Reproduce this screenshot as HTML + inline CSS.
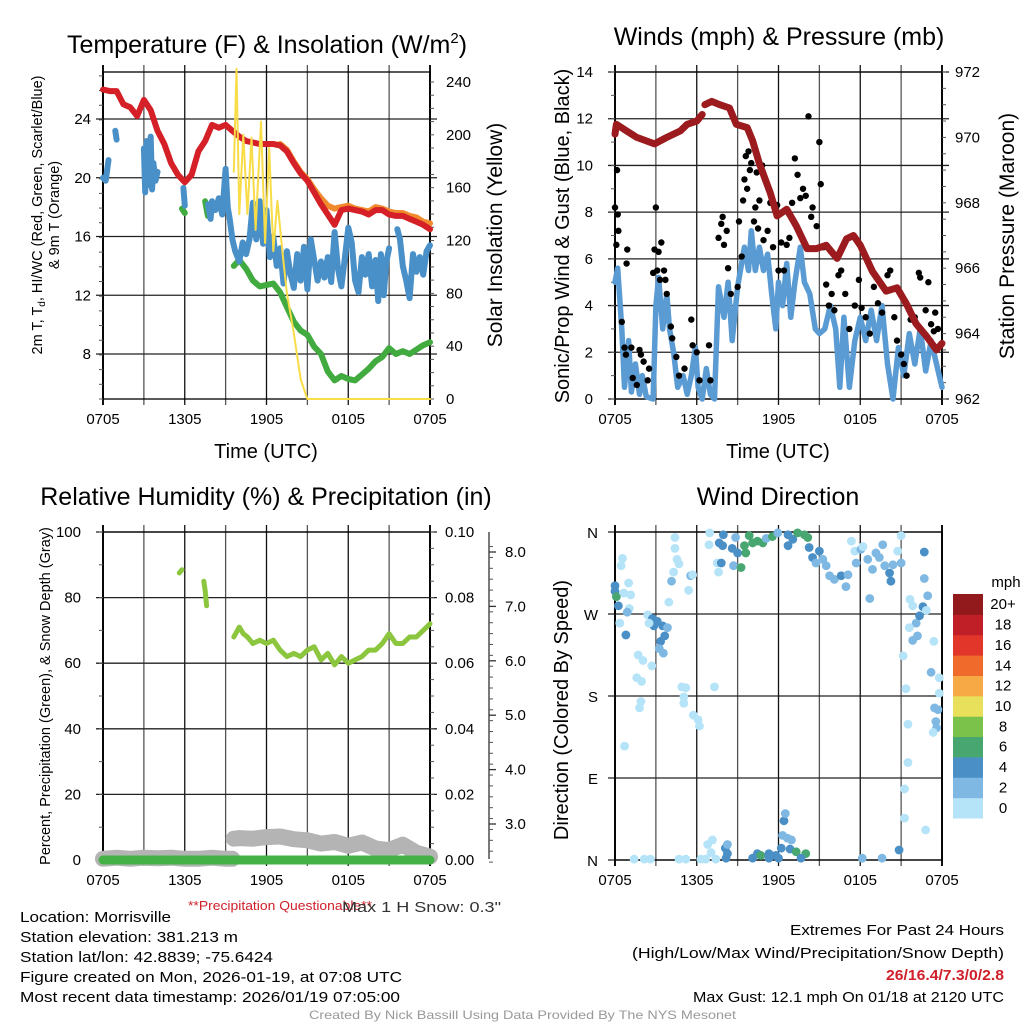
<!DOCTYPE html>
<html><head><meta charset="utf-8"><style>
html,body{margin:0;padding:0;background:#fff;width:1024px;height:1024px;overflow:hidden}
svg{display:block;font-family:"Liberation Sans",Arial,sans-serif}
</style></head><body>
<svg id="fig" width="1024" height="1024" viewBox="0 0 1024 1024" xmlns="http://www.w3.org/2000/svg">
<g id="layer"></g>
<g fill="#000" font-size="15">
<text x="188" y="910" font-size="13" fill="#d0202a" textLength="184" lengthAdjust="spacingAndGlyphs">**Precipitation Questionable**</text>
<text x="342" y="912" fill="#333" textLength="159" lengthAdjust="spacingAndGlyphs">Max 1 H Snow: 0.3"</text>
<text x="20" y="922" textLength="151" lengthAdjust="spacingAndGlyphs">Location: Morrisville</text>
<text x="20" y="942" textLength="218" lengthAdjust="spacingAndGlyphs">Station elevation: 381.213 m</text>
<text x="20" y="962" textLength="253" lengthAdjust="spacingAndGlyphs">Station lat/lon: 42.8839; -75.6424</text>
<text x="20" y="982" textLength="382" lengthAdjust="spacingAndGlyphs">Figure created on Mon, 2026-01-19, at 07:08 UTC</text>
<text x="20" y="1002" textLength="380" lengthAdjust="spacingAndGlyphs">Most recent data timestamp: 2026/01/19 07:05:00</text>
<text x="1004" y="935" text-anchor="end" textLength="214" lengthAdjust="spacingAndGlyphs">Extremes For Past 24 Hours</text>
<text x="1004" y="958" text-anchor="end" textLength="372" lengthAdjust="spacingAndGlyphs">(High/Low/Max Wind/Precipitation/Snow Depth)</text>
<text x="1004" y="980" text-anchor="end" fill="#d0202a" font-weight="bold" textLength="118" lengthAdjust="spacingAndGlyphs">26/16.4/7.3/0/2.8</text>
<text x="1004" y="1002" text-anchor="end" textLength="311" lengthAdjust="spacingAndGlyphs">Max Gust: 12.1 mph On 01/18 at 2120 UTC</text>
<text x="309" y="1019" font-size="12" fill="#999" textLength="427" lengthAdjust="spacingAndGlyphs">Created By Nick Bassill Using Data Provided By The NYS Mesonet</text>
</g>
</svg>
<script>
// ---------- DATA (hours since 0705 UTC) ----------
const timeTicks = ["0705","1305","1905","0105","0705"];
const tempTicks = [8,12,16,20,24];
const solarTicks = [0,40,80,120,160,200,240];
const windTicks = [0,2,4,6,8,10,12,14];
const presTicks = [962,964,966,968,970,972];
const rhTicks = [0,20,40,60,80,100];
const precipTicks = ["0.00","0.02","0.04","0.06","0.08","0.10"];
const snowTicks = [3,4,5,6,7,8];
const dirTicks = ["N","E","S","W","N"];
const speedBins = ["0","2","4","6","8","10","12","14","16","18","20+"];

const tempT = [0,0.5,1,1.5,2,2.5,3,3.5,4,4.5,5,5.5,6,6.5,7,7.5,8,8.5,9,9.5,10,10.5,11,11.5,12,12.5,13,13.5,14,14.5,15,15.5,16,16.5,17,17.5,18,18.5,19,19.5,20,20.5,21,21.5,22,22.5,23,23.5,24];
const tempV = [26,25.9,25.9,25,24.8,24.2,25.3,24.6,23.2,22.3,21,20.2,19.7,20.2,21.8,22.5,23.6,23.4,23.6,23.2,22.8,22.5,22.4,22.3,22.3,22.3,22.2,21.8,21,20.3,19.8,19,18.2,17.5,16.8,17.8,17.9,17.8,17.7,17.5,17.8,17.8,17.5,17.4,17.4,17.2,17,16.8,16.5];
const t9T = [13,13.5,14,14.5,15,15.5,16,16.5,17,17.5,18,18.5,19,19.5,20,20.5,21,21.5,22,22.5,23,23.5,24];
const t9V = [22.3,21.9,21.1,20.4,19.9,19.2,18.6,18.1,17.9,18,18.1,17.9,17.8,17.7,18,17.9,17.7,17.6,17.6,17.4,17.3,17,16.9];
const tdT = [5.8,6.0,null,7.5,7.7,null,9.6,10,10.5,11,11.5,12,12.5,13,13.5,14,14.5,15,15.5,16,16.5,17,17.5,18,18.5,19,19.5,20,20.5,21,21.5,22,22.5,23,23.5,24];
const tdV = [17.9,17.6,null,18.4,17.4,null,14,14.4,13.8,13,12.6,12.7,12.8,12.2,11.2,10.2,9.6,9.3,8.5,8,6.8,6.2,6.5,6.3,6.2,6.6,7,7.5,7.8,8.4,8,8.2,8,8.3,8.6,8.8];
const wcT = [0,0.2,0.4,null,0.9,1.0,null,3,3.1,3.2,3.35,3.5,3.6,3.7,3.85,4,null,5.9,6.0,null,7.7,7.9,8,8.25,8.5,8.75,9,9.15,9.3,9.5,9.7,10,10.25,10.5,10.75,11,11.25,11.5,11.75,12,12.25,12.5,12.75,13,13.25,13.5,13.75,14,14.25,14.5,14.75,15,15.25,15.5,15.75,16,16.25,16.5,16.75,17,17.25,17.5,17.75,18,18.25,18.5,18.75,19,19.25,19.5,19.75,20,20.2,20.4,20.6,20.8,21,null,21.6,21.8,22,22.25,22.5,22.75,23,23.25,23.5,23.75,24];
const wcV = [20,19.8,21.2,null,23.2,22.6,null,22,19,22.5,19.5,22.8,19.2,21,19.8,20.4,null,19.3,18.1,null,18.2,17.2,18.4,17.8,18.6,17.5,20.6,18,17.2,15.8,15,14.3,15.6,14.8,15.8,18.3,15.8,18.4,15.5,17.8,14.6,16,14,15.2,12.8,15,13.5,12.5,14.8,13,15.3,12.4,15.8,14.4,13,14.3,13.2,14.6,12.9,16.3,13.8,12.6,14.5,16.6,15.6,13,12.2,14.6,13.4,14.8,12.6,14.4,11.6,14.8,12,14.3,15.2,null,16.5,15.8,14,13,11.8,14.8,13.6,14.6,13.4,15,15.4];
const solT = [9.6,9.8,10.0,10.3,10.6,10.9,11.2,11.6,11.9,12.2,12.5,12.8,13.2,13.5,14,14.5,15,24];
const solV = [172,250,140,200,140,198,128,210,118,190,112,150,108,80,50,15,0,0];

const windT = [0,0.2,0.5,0.7,1,1.2,1.5,1.8,2,2.3,2.8,3,3.2,3.5,3.8,4,4.3,4.6,5,5.3,5.6,5.9,6.1,6.4,6.7,7,7.3,7.6,8,8.3,8.6,9,9.5,9.8,10,10.3,10.6,10.9,11.2,11.5,11.8,12,12.3,12.6,12.9,13.2,13.6,13.9,14.3,14.7,15,15.4,15.8,16.2,16.5,16.8,17.2,17.6,18,18.4,18.8,19.2,19.6,20,20.4,20.8,21.2,21.6,22,22.4,22.8,23.2,23.6,24];
const windV = [5,5.6,3,0.5,2.5,0.3,1.5,0.2,1,0.1,0,4,5.2,3,4.5,3,2,0.5,1,0.2,1,2.2,0.5,0,1.3,0.2,0,4.8,3.5,5,2.5,4.8,6.5,5.5,7.2,5.5,6.5,5.5,6.2,4.5,3,5,4,5.8,3.5,5,6.5,5,4.5,3,2.8,3,4,3,0.5,3.5,0.5,2.5,3.5,2.5,3.8,2.5,4,1.5,0,2.2,1,2.8,1.5,3,1.2,2.5,1.5,0.5];
const gustT = [0,0.1,0.15,0.2,0.25,0.5,0.7,0.8,0.85,0.9,1.2,1.3,1.6,1.8,1.9,2.1,2.4,2.5,2.8,2.9,3.0,3.1,3.2,3.3,3.4,3.6,3.7,3.8,4.1,4.2,4.5,4.7,5.1,5.6,5.7,6.0,6.2,6.9,7.0,7.6,7.8,7.9,8.0,8.2,8.3,8.5,9.0,9.1,9.3,9.4,9.5,9.6,9.7,9.8,9.9,10.0,10.2,10.3,10.4,10.5,10.6,10.8,10.9,11.2,11.4,11.6,11.9,12.0,12.2,12.4,12.6,12.8,13.0,13.2,13.4,13.6,13.8,14.0,14.2,14.4,14.5,14.8,15.0,15.1,15.3,15.5,15.7,15.9,16.1,16.4,16.6,16.9,17.2,17.6,17.9,18.1,18.4,18.7,19.0,19.3,19.6,20.0,20.2,20.5,20.7,21.0,21.2,21.4,21.7,22.0,22.3,22.4,22.8,23.0,23.2,23.4,23.5,23.7];
const gustV = [8.2,6.6,9.8,7.9,7.2,3.3,2.2,1.9,5.8,6.4,2.2,0.9,0.6,2.1,1.9,1.6,0.8,1.3,5.4,6.4,8.2,5.5,6.3,5.1,6.7,5.5,5.1,4.5,3.1,2.6,1.8,1.0,1.3,3.4,2.3,2.0,0.8,2.3,0.8,6.9,7.5,7.8,6.6,7.2,5.6,4.5,4.8,7.6,6.1,8.5,9.4,10.4,9.0,10.6,9.8,10.1,7.6,8.2,9.7,7.3,8.5,10.0,6.8,7.2,8.4,6.5,8.3,5.5,6.7,5.5,6.6,6.9,8.4,10.3,9.6,8.6,9.0,8.7,12.1,7.8,8.2,7.4,11.0,9.2,6.5,4.9,4.0,4.5,3.8,5.3,5.5,4.5,3.0,4.0,5.1,3.9,3.5,2.8,4.8,4.1,3.7,5.3,5.5,3.5,2.5,1.9,1.5,1.0,3.4,3.5,5.4,5.2,3.8,5.0,3.2,2.9,3.7,3.0];
const presT = [0,0.1,0.85,1.6,2.9,3.8,4.8,5.3,6.0,6.4,null,6.6,7.1,7.7,8.4,8.9,9.7,10.1,10.6,11.4,11.9,12.6,13.3,14.1,14.8,15.5,16.3,17.0,17.5,18.0,18.9,19.9,20.7,21.4,22.1,22.9,23.6,24];
const presV = [970.1,970.4,970.2,970.0,969.8,970.0,970.2,970.4,970.5,970.7,null,971.0,971.1,971.0,970.9,970.4,970.3,969.9,969.2,968.3,967.6,967.8,967.3,966.6,966.6,966.7,966.3,966.9,967.0,966.7,965.9,965.3,965.4,964.9,964.3,963.9,963.5,963.7];

const rhT = [5.6,5.8,null,7.4,7.5,7.6,null,9.6,10,10.3,10.6,11,11.5,12,12.5,13,13.5,14,14.5,15,15.5,16,16.5,17,17.5,18,18.5,19,19.5,20,20.5,21,21.5,22,22.5,23,23.5,24];
const rhV = [87.5,88.5,null,85,82,77.5,null,68,71,69,68,66,67,66,67,64,62,63,62,64,65,61,63,59.5,62,60,61,62,64,64,66,69,66,66,68,68,70,72];
const snowT = [0,1,2,3,4,5,6,7,8,9,9.5,null,9.6,10,11,12,13,14,15,16,17,18,19,20,21,22,23,24];
const snowV = [2.36,2.38,2.36,2.38,2.37,2.38,2.36,2.36,2.38,2.36,2.36,null,2.73,2.74,2.73,2.76,2.77,2.72,2.7,2.64,2.67,2.6,2.66,2.55,2.52,2.62,2.47,2.4];
const precipT = [0,24];
const precipV = [0,0];

const dirT = [0,0,0.1,0.25,0.55,0.45,1.0,0.65,1.15,1.05,0.9,0.35,0.8,1.7,2.05,2.7,1.6,1.95,1.9,1.8,0.7,2.4,2.75,3.1,2.85,3.5,3.85,3.65,3.35,3.25,3.55,2.5,4.4,4.4,4.55,4.7,4.3,4.15,3.95,5.4,5.55,5.7,4.9,5.2,5.05,5.05,5.75,6.1,6.2,6.95,6.9,7.3,7.5,7.6,7.8,7.65,7.9,7.95,8.6,8.7,8.85,9.0,9.25,9.5,9.6,9.85,10.1,10.45,10.85,11.1,11.55,11.95,12.7,12.7,13.05,13.4,13.9,14.15,14.25,14.5,15.0,14.75,15.25,15.5,15.75,16.1,16.6,16.95,17.1,17.35,17.6,17.7,18.05,18.2,18.55,18.7,18.9,19.15,19.4,19.65,19.8,20.15,20.25,20.4,20.75,21.0,21.0,21.65,21.85,22.1,22.35,22.6,22.7,22.7,22.85,22.95,21.6,21.85,22.2,21.15,21.35,23.2,23.4,23.8,23.8,23.45,23.7,23.55,23.6,23.35,21.5,21.5,21.25,21.25,22.8,20.85,18.15,19.6,1.4,2.15,2.6,4.7,5.2,6.3,6.65,7.4,6.8,7.15,7.05,8.1,8.25,8.25,8.15,10.1,10.45,10.7,11.3,11.3,11.8,12.2,12.0,12.4,12.5,12.3,12.65,12.95,12.85,13.3,14.0,13.65];
const dirV = [301,295,289,279,331,323,304,293,291,276,272,260,247,225,219,213,200,196,174,167,125,269,265,262,257,257,255,246,240,232,227,260,354,342,330,325,316,306,283,296,312,313,190,189,179,172,159,154,147,359,346,190,326,316,326,348,345,357,342,323,354,337,321,345,337,356,348,350,348,353,355,359,357,345,352,359,357,354,343,332,339,326,330,323,312,308,312,300,313,350,339,326,341,344,330,287,319,337,332,346,323,315,306,324,339,326,356,286,279,260,268,278,309,338,274,290,255,241,246,224,188,206,240,200,183,167,165,152,145,140,149,107,78,46,33,11,2,2,1,1,1,1,1,1,1,1,17,22,8,13,17,7,2,2,7,5,7,2,5,13,2,43,51,27,24,22,12,9,7,2];
const dirSpd = [5,5,7,5,1,1,1,1,1,1,3,1,5,1,1,1,1,1,1,1,1,1,5,5,5,5,3,5,5,3,3,1,1,1,1,1,1,3,1,1,3,1,1,1,1,1,1,1,1,1,1,1,1,1,5,5,5,5,5,3,3,5,7,7,7,7,7,7,7,3,7,3,5,5,5,7,7,7,5,5,5,3,3,3,3,3,5,3,3,1,1,3,3,1,3,3,3,3,3,3,3,5,5,3,1,3,1,1,1,3,5,5,3,5,1,3,1,3,3,1,1,3,1,1,1,3,3,3,3,1,1,1,1,1,1,5,3,3,1,1,1,1,1,1,1,1,1,1,1,5,3,5,5,5,5,7,5,5,5,5,5,5,3,3,3,3,5,7,7,5];
const binColors = ["#b5e3f8","#7fb9e3","#4a90c6","#48a671","#7bc24b","#e8e05a","#f6a945","#f06a2b","#e2362b","#c11f27","#921a1d"];

// ---------- helpers ----------
const NS="http://www.w3.org/2000/svg";
const layer=document.getElementById('layer');
function el(tag,attrs,parent,txt){const e=document.createElementNS(NS,tag);for(const k in attrs)e.setAttribute(k,attrs[k]);if(txt!==undefined)e.textContent=txt;(parent||layer).appendChild(e);return e;}
function lin(d0,d1,r0,r1){return v=>r0+(v-d0)*(r1-r0)/(d1-d0);}
function pathFrom(ts,vs,fx,fy){let d="",pen=false;for(let i=0;i<ts.length;i++){if(ts[i]===null||vs[i]===null){pen=false;continue;}d+=(pen?"L":"M")+fx(ts[i]).toFixed(1)+","+fy(vs[i]).toFixed(1);pen=true;}return d;}

function frame(g,L,R,T,B,xs,hy,opts){
  for(let h=0;h<=24;h+=3){const x=xs(h);
    const ln=el('line',{x1:x,x2:x,y1:T-7,y2:B+6,stroke:(h%6===0?'#111':'#555'),'stroke-width':(h===0||h===24)?2:1.3},g);
    }
  hy.forEach(y=>{const ln=el('line',{x1:L-7,x2:R+(opts.rightTick?7:0),y1:y,y2:y,stroke:'#222','stroke-width':1.3},g);
    });
  el('rect',{x:L,y:T,width:R-L,height:B-T,fill:'none',stroke:'#000','stroke-width':1.3},g);
  for(let i=0;i<timeTicks.length;i++){const t=el('text',{x:xs(i*6),y:B+25,'text-anchor':'middle','font-size':15},g,timeTicks[i]);
    }
}
function minorTicks(g,x,T,B,step,dir){for(let y=B;y>=T-0.5;y-=step){el('line',{x1:x,x2:x+dir*4,y1:y,y2:y,stroke:'#555','stroke-width':1},g);}}

// ---------- Panel 1: Temperature ----------
(function(){
const g=el('g',{});
const L=103,R=430,T=72,B=399;
const xs=lin(0,24,L,R), yT=lin(8,24,354,119), yS=lin(0,240,399,82);
frame(g,L,R,T,B,xs,tempTicks.map(yT),{rightTick:true});
minorTicks(g,L,T,B,(yT(8)-yT(9)),-1);minorTicks(g,R,T,B,(yS(0)-yS(10)),1);
tempTicks.forEach(v=>{const t=el('text',{x:L-12,y:yT(v)+5,'text-anchor':'end','font-size':15},g,v);});
solarTicks.forEach(v=>{const t=el('text',{x:R+16,y:yS(v)+5,'font-size':15},g,v);});
const cap={fill:'none','stroke-linejoin':'round','stroke-linecap':'round'};
let p=el('path',Object.assign({d:pathFrom(t9T,t9V,xs,yT),stroke:'#f08a2c','stroke-width':6},cap),g);
p=el('path',Object.assign({d:pathFrom(tempT,tempV,xs,yT),stroke:'#d42026','stroke-width':6},cap),g);
p=el('path',Object.assign({d:pathFrom(tdT,tdV,xs,yT),stroke:'#41ab3f','stroke-width':6},cap),g);
p=el('path',Object.assign({d:pathFrom(wcT,wcV,xs,yT),stroke:'#4a90c8','stroke-width':6},cap),g);
p=el('path',Object.assign({d:pathFrom(solT,solV,xs,yS),stroke:'#f8dc48','stroke-width':2},cap),g);
let t=el('text',{x:267,y:53,'text-anchor':'middle','font-size':25},g);
t.innerHTML='Temperature (F) &amp; Insolation (W/m<tspan dy="-10" font-size="15">2</tspan><tspan dy="10">)</tspan>';
t=el('text',{x:266,y:458,'text-anchor':'middle','font-size':20},g,'Time (UTC)');
t=el('text',{transform:'translate(42,215) rotate(-90)','text-anchor':'middle','font-size':14.5},g);
t.innerHTML='2m T, T<tspan dy="3" font-size="10">d</tspan><tspan dy="-3">, HI/WC (Red, Green, Scarlet/Blue)</tspan>';
t=el('text',{transform:'translate(59,215) rotate(-90)','text-anchor':'middle','font-size':14.5},g,'& 9m T (Orange)');
t=el('text',{transform:'translate(502,235) rotate(-90)','text-anchor':'middle','font-size':21},g,'Solar Insolation (Yellow)');
})();

// ---------- Panel 2: Winds ----------
(function(){
const g=el('g',{});
const L=615,R=942,T=72,B=399;
const xs=lin(0,24,L,R), yW=lin(0,14,399,72), yP=lin(962,972,399,72);
frame(g,L,R,T,B,xs,windTicks.map(yW),{rightTick:true});
minorTicks(g,L,T,B,(yW(0)-yW(1)),-1);minorTicks(g,R,T,B,(yP(962)-yP(962.5)),1);
windTicks.forEach(v=>{const t=el('text',{x:L-22,y:yW(v)+5,'text-anchor':'end','font-size':15},g,v);});
presTicks.forEach(v=>{const t=el('text',{x:R+13,y:yP(v)+5,'font-size':15},g,v);});
let p=el('path',{d:pathFrom(windT,windV,xs,yW),stroke:'#5a9bd3','stroke-width':5.5,fill:'none','stroke-linejoin':'round','stroke-linecap':'round'},g);
for(let i=0;i<gustT.length;i++){const c=el('circle',{cx:xs(gustT[i]),cy:yW(gustV[i]),r:3.2,fill:'#000'},g);
  }
p=el('path',{d:pathFrom(presT,presV,xs,yP),stroke:'#9b1b1e','stroke-width':7,fill:'none','stroke-linejoin':'round','stroke-linecap':'round'},g);
let t=el('text',{x:779,y:45,'text-anchor':'middle','font-size':25},g,'Winds (mph) & Pressure (mb)');
t=el('text',{x:778,y:458,'text-anchor':'middle','font-size':20},g,'Time (UTC)');
t=el('text',{transform:'translate(569,236) rotate(-90)','text-anchor':'middle','font-size':20},g,'Sonic/Prop Wind & Gust (Blue, Black)');
t=el('text',{transform:'translate(1014,236) rotate(-90)','text-anchor':'middle','font-size':21},g,'Station Pressure (Maroon)');
})();

// ---------- Panel 3: RH ----------
(function(){
const g=el('g',{});
const L=103,R=430,T=532,B=860;
const xs=lin(0,24,L,R), yR=lin(0,100,860,532), ySn=lin(3,8,824,552);
frame(g,L,R,T,B,xs,rhTicks.map(yR),{rightTick:true});
minorTicks(g,L,T,B,(yR(0)-yR(10)),-1);minorTicks(g,R,T,B,(yR(0)-yR(5)),1);
rhTicks.forEach(v=>{const t=el('text',{x:L-22,y:yR(v)+5,'text-anchor':'end','font-size':15},g,v);});
precipTicks.forEach((v,i)=>{const t=el('text',{x:R+15,y:yR(i*20)+5,'font-size':15},g,v);});
let a=el('line',{x1:489,x2:489,y1:532,y2:859,stroke:'#333','stroke-width':1.3},g);
for(let s=2.3;s<=8.3;s+=0.2){el('line',{x1:489,x2:493,y1:ySn(s),y2:ySn(s),stroke:'#555'},g);}
snowTicks.forEach(v=>{el('line',{x1:489,x2:496,y1:ySn(v),y2:ySn(v),stroke:'#333','stroke-width':1.3},g);
  const t=el('text',{x:505,y:ySn(v)+5,'font-size':15},g,v.toFixed(1));});
let p=el('path',{d:pathFrom(snowT,snowV,xs,ySn),stroke:'#b4b4b4','stroke-width':16,fill:'none','stroke-linejoin':'round','stroke-linecap':'round'},g);
p=el('path',{d:pathFrom(precipT,precipV,xs,yR),stroke:'#44b146','stroke-width':9,fill:'none','stroke-linecap':'round'},g);
p=el('path',{d:pathFrom(rhT,rhV,xs,yR),stroke:'#8cc63f','stroke-width':5,fill:'none','stroke-linejoin':'round','stroke-linecap':'round'},g);
let t=el('text',{x:266,y:505,'text-anchor':'middle','font-size':25},g,'Relative Humidity (%) & Precipitation (in)');
t=el('text',{transform:'translate(50,696) rotate(-90)','text-anchor':'middle','font-size':14.5},g,'Percent, Precipitation (Green), & Snow Depth (Gray)');
})();

// ---------- Panel 4: Wind direction ----------
(function(){
const g=el('g',{});
const L=615,R=942,T=532,B=860;
const xs=lin(0,24,L,R), yD=lin(0,360,860,532);
frame(g,L,R,T,B,xs,[0,90,180,270,360].map(yD),{rightTick:false});
dirTicks.forEach((v,i)=>{const t=el('text',{x:L-17,y:yD(i*90)+6,'text-anchor':'end','font-size':15},g,v);});
for(let i=0;i<dirT.length;i++){const b=Math.min(10,Math.floor(dirSpd[i]/2));
  const c=el('circle',{cx:xs(dirT[i]),cy:yD(dirV[i]),r:4.4,fill:binColors[b]},g);
  }
let t=el('text',{x:778,y:505,'text-anchor':'middle','font-size':25},g,'Wind Direction');
t=el('text',{transform:'translate(568,710) rotate(-90)','text-anchor':'middle','font-size':20},g,'Direction (Colored By Speed)');
const lg=el('g',{},g);
const h=(818-594)/speedBins.length;
speedBins.forEach((s,i)=>{const y=818-(i+1)*h;
  const r=el('rect',{x:953,y:y,width:30,height:h+0.5,fill:binColors[i]},lg);
  const tt=el('text',{x:1003,y:y+h/2+5,'text-anchor':'middle','font-size':15},lg,s);});
t=el('text',{x:1006,y:587,'text-anchor':'middle','font-size':15},lg,'mph');
})();
</script>
</body></html>
